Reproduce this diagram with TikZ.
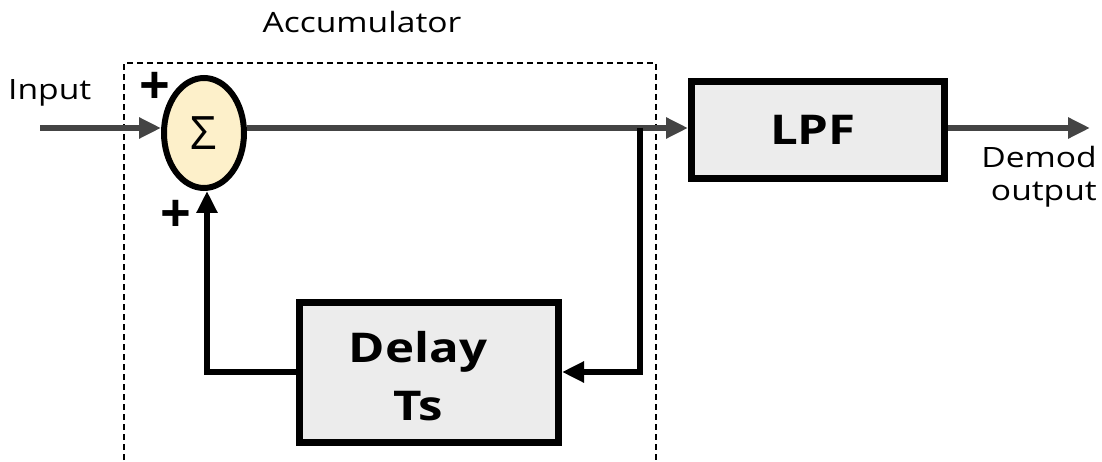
\documentclass[tikz,border=0pt]{standalone}
\usepackage{fontspec}
\setmainfont{Open Sans}
\newfontfamily\widefont[FakeStretch=1.2]{Open Sans}
\usetikzlibrary{arrows.meta,shapes.geometric}
\definecolor{wire}{RGB}{68,68,68}
\definecolor{boxfill}{RGB}{236,236,236}
\definecolor{sumfill}{RGB}{253,240,202}
\begin{document}
\begin{tikzpicture}[x=1pt,y=-1pt,
  block/.style={draw=black,line width=7pt,fill=boxfill,inner sep=0pt},
  blocktext/.style={font=\widefont\fontsize{41}{58}\selectfont\bfseries,align=center,inner sep=0pt},
  summer/.style={draw=black,line width=6pt,fill=sumfill,ellipse,inner sep=0pt,
    minimum width=80pt,minimum height=110pt,font=\fontsize{46}{46}\selectfont},
  label/.style={font=\widefont\fontsize{28}{33}\selectfont,inner sep=0pt},
  sign/.style={font=\fontsize{54}{54}\selectfont\bfseries,inner sep=0pt},
  wirearrow/.style={draw=wire,line width=6pt,-{Triangle[length=22pt,width=20pt]}},
  fbarrow/.style={draw=black,line width=6pt,-{Triangle[length=22pt,width=20pt]}},
  accbox/.style={draw=black,line width=1.2pt,dash pattern=on 6pt off 4pt}]
\useasboundingbox (0,0) rectangle (1102,462);

% accumulator boundary
\draw[accbox] (124,470) -- (124,63) -- (656,63) -- (656,470);
\node[label] (acc) at (362,22) {Accumulator};

% blocks
\node[summer] (sum) at (204,133) {Σ};
\node[block,minimum width=253pt,minimum height=97pt] (lpf) at (818,130) {};
\node[blocktext] (lpftext) at (813,130) {LPF};
\node[block,minimum width=259pt,minimum height=140pt] (delay) at (429,372) {};
\node[blocktext] (delaytext) at (418,376) {Delay\\Ts};

% labels
\node[label,anchor=base west] (in) at (8,100) {Input};
\node[sign] (p1) at (155,88) {+};
\node[sign] (p2) at (176,216) {+};
\node[label,anchor=base east,align=right] (out) at (1097,201) {Demod\\output};

% signal path
\coordinate (src) at (40,128);
\coordinate (tap) at (640,128);
\coordinate (tapdn) at (640,372);
\coordinate (fbcorner) at (207,372);
\coordinate (dst) at (1090,128);
\draw[wirearrow] (src) -- (sum.west |- src);
\draw[wirearrow] (sum.east |- src) -- (lpf.west |- src);
\draw[wirearrow] (lpf.east |- dst) -- (dst);

% feedback loop through the delay
\draw[fbarrow] (tap) -- (tapdn) -- (delay.east |- tapdn);
\draw[fbarrow] (delay.west |- fbcorner) -- (fbcorner) -- (fbcorner |- sum.south);
\end{tikzpicture}
\end{document}
